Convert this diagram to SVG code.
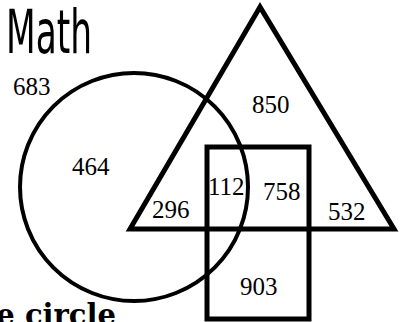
<svg xmlns="http://www.w3.org/2000/svg" width="401" height="322" viewBox="0 0 401 322">
<style>
.shape{fill:none;stroke:#000;}
.num{font-family:'Liberation Serif','DejaVu Serif',serif;font-size:25px;fill:#000;}
</style>
<rect width="401" height="322" fill="#fff"/>
<text x="6" y="53" font-family="Liberation Sans Narrow, DejaVu Sans Condensed, sans-serif" font-size="61" textLength="86" lengthAdjust="spacingAndGlyphs">Math</text>
<g id="circle"><circle class="shape" cx="134" cy="187" r="114" stroke-width="4"/></g>
<g id="triangle"><polygon class="shape" points="260,7 130,229 394,229" stroke-width="5" stroke-linejoin="miter"/></g>
<g id="rectangle"><rect class="shape" x="207" y="147" width="102" height="172" stroke-width="5"/></g>
<g id="labels" font-family="Liberation Serif, DejaVu Serif, serif" font-size="25">
<text x="13" y="95">683</text>
<text x="72" y="175">464</text>
<text x="252" y="113">850</text>
<text x="152" y="218">296</text>
<text x="208" y="195">112</text>
<text x="263" y="200">758</text>
<text x="328" y="220">532</text>
<text x="240" y="295">903</text>
</g>
<text x="116" y="325" text-anchor="end" font-family="DejaVu Serif, serif" font-weight="bold" font-size="29">the circle</text>
</svg>
